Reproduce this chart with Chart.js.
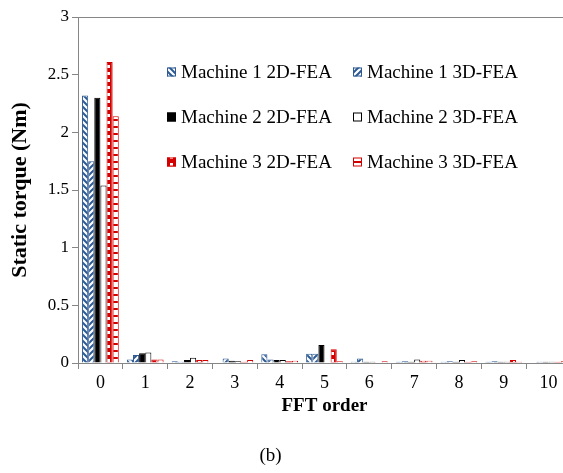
<!DOCTYPE html>
<html>
<head>
<meta charset="utf-8">
<script src="https://cdn.jsdelivr.net/npm/chart.js@4"></script>
<style>
  html, body { margin: 0; padding: 0; background: #fff; overflow: hidden; }
  #wrap { position: relative; width: 563px; height: 473px; overflow: hidden; }
  #torqueChart { position: absolute; left: 0; top: 0; }
  #caption { position: absolute; left: 0; width: 541px; top: 444px; text-align: center;
             font: 19px "Liberation Serif", serif; color: #000; }
</style>
</head>
<body>
<div id="wrap">
  <canvas id="torqueChart" width="580" height="473"></canvas>
  <div id="caption">(b)</div>
</div>
<script>
const fftOrders = ['0', '1', '2', '3', '4', '5', '6', '7', '8', '9', '10'];

const m1Fea2d = [2.32, 0.03, 0.015, 0.005, 0.075, 0.08, 0.01, 0.01, 0.01, 0.01, 0.005];
const m1Fea3d = [1.75, 0.07, 0.01, 0.04, 0.03, 0.08, 0.04, 0.015, 0.015, 0.015, 0.01];
const m2Fea2d = [2.30, 0.085, 0.025, 0.02, 0.025, 0.155, 0.01, 0.01, 0.01, 0.01, 0.01];
const m2Fea3d = [1.54, 0.09, 0.045, 0.015, 0.025, 0.005, 0.01, 0.03, 0.025, 0.01, 0.01];
const m3Fea2d = [2.61, 0.03, 0.025, 0.01, 0.015, 0.12, 0.005, 0.02, 0.01, 0.025, 0.01];
const m3Fea3d = [2.14, 0.03, 0.025, 0.025, 0.02, 0.015, 0.015, 0.02, 0.015, 0.01, 0.015];

const BLUE = '#2d5a93';
const RED = '#d40000';
const AXIS = '#868686';
const SERIF = "'Liberation Serif', 'Times New Roman', serif";

// small canvas tiles used as bar fills
function makePattern(w, h, paint) {
    const c = document.createElement('canvas');
    c.width = w;
    c.height = h;
    const g = c.getContext('2d');
    paint(g, w, h);
    return g.createPattern(c, 'repeat');
}

function drawChart() {
    const ctx = document.getElementById('torqueChart').getContext('2d');

    const stripeDown = makePattern(6, 6, (g, w, h) => {
        g.fillStyle = '#fff';
        g.fillRect(0, 0, w, h);
        g.strokeStyle = BLUE;
        g.lineWidth = 2;
        g.beginPath();
        g.moveTo(-1, -1); g.lineTo(w + 1, h + 1);
        g.moveTo(-1, h - 1); g.lineTo(1, h + 1);
        g.moveTo(w - 1, -1); g.lineTo(w + 1, 1);
        g.stroke();
    });

    const stripeUp = makePattern(6, 6, (g, w, h) => {
        g.fillStyle = '#fff';
        g.fillRect(0, 0, w, h);
        g.strokeStyle = BLUE;
        g.lineWidth = 2;
        g.beginPath();
        g.moveTo(-1, h + 1); g.lineTo(w + 1, -1);
        g.moveTo(-1, 1); g.lineTo(1, -1);
        g.moveTo(w - 1, h + 1); g.lineTo(w + 1, h - 1);
        g.stroke();
    });

    const redDots = makePattern(7, 7, (g, w, h) => {
        g.fillStyle = RED;
        g.fillRect(0, 0, w, h);
        g.fillStyle = '#fff';
        g.fillRect(2, 2, 3, 3);
    });

    const redLines = makePattern(7, 7, (g, w, h) => {
        g.fillStyle = '#fff';
        g.fillRect(0, 0, w, h);
        g.fillStyle = RED;
        g.fillRect(0, 0, w, 2);
    });

    const datasets = [
        { label: 'Machine 1 2D-FEA', data: m1Fea2d, backgroundColor: stripeDown, borderColor: BLUE },
        { label: 'Machine 1 3D-FEA', data: m1Fea3d, backgroundColor: stripeUp, borderColor: BLUE },
        { label: 'Machine 2 2D-FEA', data: m2Fea2d, backgroundColor: '#000', borderColor: '#000' },
        { label: 'Machine 2 3D-FEA', data: m2Fea3d, backgroundColor: '#fff', borderColor: '#000' },
        { label: 'Machine 3 2D-FEA', data: m3Fea2d, backgroundColor: redDots, borderColor: RED },
        { label: 'Machine 3 3D-FEA', data: m3Fea3d, backgroundColor: redLines, borderColor: RED }
    ].map(ds => Object.assign(ds, { borderWidth: 1, categoryPercentage: 0.82, barPercentage: 1 }));

    // line along the top edge of the plot area
    const plotFrame = {
        id: 'plotFrame',
        afterDraw(chart) {
            const { ctx, chartArea } = chart;
            ctx.save();
            ctx.strokeStyle = AXIS;
            ctx.lineWidth = 1;
            ctx.beginPath();
            ctx.moveTo(chartArea.left, chartArea.top + 0.5);
            ctx.lineTo(chartArea.right, chartArea.top + 0.5);
            ctx.stroke();
            ctx.restore();
        }
    };

    // two-column legend inside the plot area
    const gridLegend = {
        id: 'gridLegend',
        afterDatasetsDraw(chart) {
            const { ctx, chartArea } = chart;
            const colX = [chartArea.left + 89, chartArea.left + 275];
            ctx.save();
            ctx.font = '19px ' + SERIF;
            ctx.textBaseline = 'middle';
            chart.data.datasets.forEach((ds, i) => {
                const x = colX[i % 2];
                const y = chartArea.top + 55 + Math.floor(i / 2) * 45;
                ctx.fillStyle = ds.backgroundColor;
                ctx.fillRect(x, y - 4.5, 9, 9);
                ctx.strokeStyle = ds.borderColor;
                ctx.lineWidth = 1;
                ctx.strokeRect(x + 0.5, y - 4, 8, 8);
                ctx.fillStyle = '#000';
                ctx.fillText(ds.label, x + 14, y + 1);
            });
            ctx.restore();
        }
    };

    new Chart(ctx, {
        type: 'bar',
        data: { labels: fftOrders, datasets: datasets },
        plugins: [plotFrame, gridLegend],
        options: {
            responsive: false,
            animation: false,
            layout: { padding: { top: 17, right: 9, left: 0, bottom: 0 } },
            plugins: {
                legend: { display: false },
                tooltip: { enabled: false }
            },
            scales: {
                x: {
                    ticks: { color: '#000', font: { family: SERIF, size: 18 }, padding: 3 },
                    grid: { drawOnChartArea: false, tickLength: 6, color: AXIS },
                    border: { color: AXIS },
                    title: {
                        display: true,
                        text: 'FFT order',
                        color: '#000',
                        font: { family: SERIF, size: 19, weight: 'bold' },
                        padding: { top: 0, bottom: 56 }
                    },
                    afterFit: scale => { scale.height = 110; }
                },
                y: {
                    min: 0,
                    max: 3,
                    ticks: {
                        stepSize: 0.5,
                        color: '#000',
                        font: { family: SERIF, size: 17 },
                        padding: 3,
                        callback: value => String(value)
                    },
                    grid: { drawOnChartArea: false, tickLength: 6, color: AXIS },
                    border: { color: AXIS },
                    title: {
                        display: true,
                        text: 'Static torque (Nm)',
                        color: '#000',
                        font: { family: SERIF, size: 22, weight: 'bold' },
                        padding: { top: 7, bottom: 0 }
                    },
                    afterFit: scale => { scale.width = 78; }
                }
            }
        }
    });
}

Promise.all([
    document.fonts.load("17px 'Liberation Serif'"),
    document.fonts.load("bold 19px 'Liberation Serif'")
]).then(drawChart, drawChart);
</script>
</body>
</html>
